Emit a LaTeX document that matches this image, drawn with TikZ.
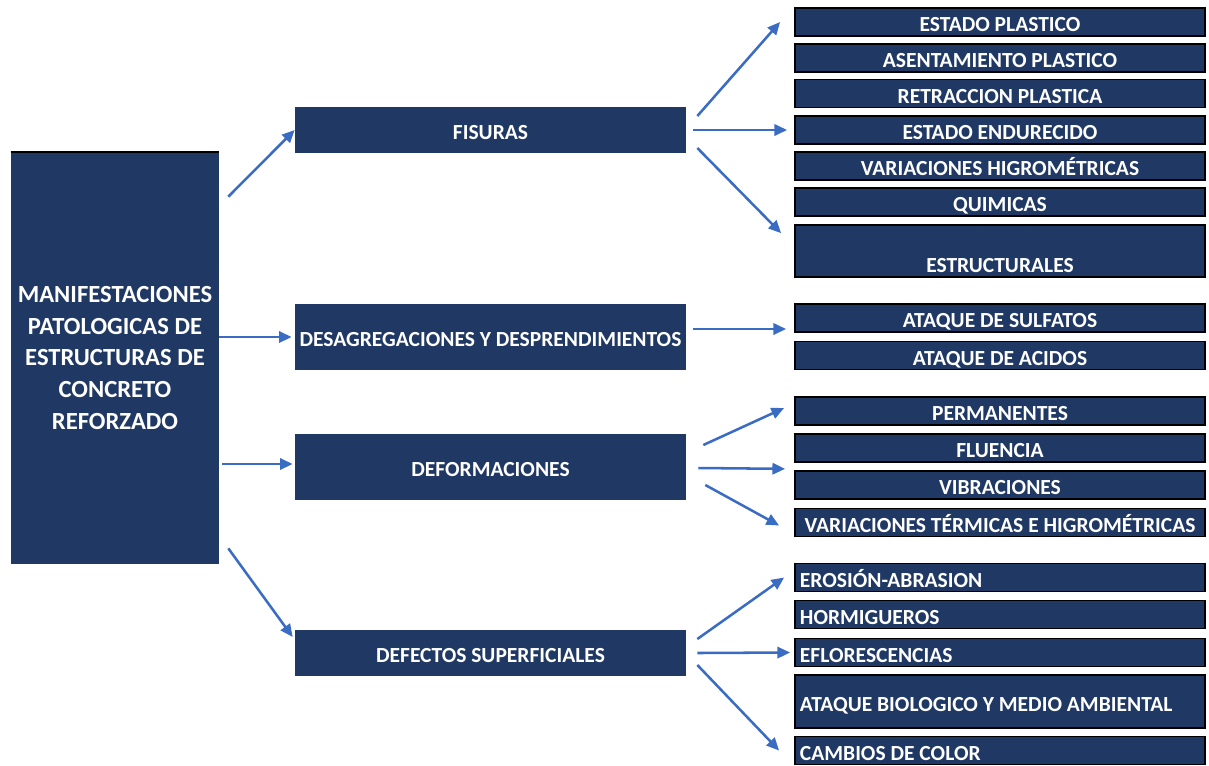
\documentclass[tikz,border=0pt]{standalone}
\usepackage{fontspec}
\setmainfont{Carlito}
\usetikzlibrary{arrows.meta,calc}
\definecolor{navy}{RGB}{32,56,100}
\definecolor{arrblue}{RGB}{59,108,196}
\tikzset{
  mainbox/.style={rectangle, fill=navy, text=white, inner sep=0pt,
    font=\fontsize{17.5}{22.7}\selectfont\bfseries, align=center},
  boxfont/.style={font=\fontsize{15.3}{18}\selectfont\bfseries,
    text height=13.6pt, text depth=0pt},
  catbox/.style={rectangle, fill=navy, text=white, inner sep=0pt, boxfont,
    minimum width=9.775cm},
  subbox/.style={rectangle, fill=navy, draw=black, line width=1.2pt, text=white,
    inner sep=0pt, boxfont, minimum width=10.25cm, minimum height=0.7cm},
  lsub/.style={subbox, text width=10cm, align=flush left},
  arr/.style={draw=arrblue, line width=1.8pt, -{Triangle[length=9pt,width=8pt]}}
}
\begin{document}
\begin{tikzpicture}[x=0.025cm, y=-0.025cm]
  \useasboundingbox (0,0) rectangle (1209,765);
  % root
  \node[mainbox, minimum width=5.2cm, minimum height=10.3cm] (main) at (115,358)
    {MANIFESTACIONES\\PATOLOGICAS DE\\ESTRUCTURAS DE\\CONCRETO\\REFORZADO};
  \draw[line width=1.5pt] (main.north west) -- (main.north east);
  % categories
  \node[catbox, minimum height=1.15cm] (fis) at (490.5,130) {FISURAS};
  \node[catbox, minimum height=1.65cm] (des) at (490.5,337) {DESAGREGACIONES Y DESPRENDIMIENTOS};
  \node[catbox, minimum height=1.65cm] (def) at (490.5,467) {DEFORMACIONES};
  \node[catbox, minimum height=1.15cm] (dfs) at (490.5,653) {DEFECTOS SUPERFICIALES};
  % fisuras
  \node[subbox] (ep)  at (1000,22)  {ESTADO PLASTICO};
  \node[subbox] (ap)  at (1000,58)  {ASENTAMIENTO PLASTICO};
  \node[subbox] (rp)  at (1000,93.5) {RETRACCION PLASTICA};
  \node[subbox] (ee)  at (1000,130) {ESTADO ENDURECIDO};
  \node[subbox] (vh)  at (1000,166) {VARIACIONES HIGROMÉTRICAS};
  \node[subbox] (qui) at (1000,202) {QUIMICAS};
  \node[subbox, minimum height=1.3cm] (estr) at (1000,251) {};
  \node[text=white, inner sep=0pt, boxfont] (estrt) at ($(estr.south)+(0,-15)$) {ESTRUCTURALES};
  % desagregaciones
  \node[subbox] (sul) at (1000,318) {ATAQUE DE SULFATOS};
  \node[subbox] (aci) at (1000,355.5) {ATAQUE DE ACIDOS};
  % deformaciones
  \node[subbox] (perm) at (1000,411) {PERMANENTES};
  \node[subbox] (flu)  at (1000,448) {FLUENCIA};
  \node[subbox] (vib)  at (1000,485) {VIBRACIONES};
  \node[subbox] (vte)  at (1000,522.5) {VARIACIONES TÉRMICAS E HIGROMÉTRICAS};
  % defectos
  \node[lsub] (ero) at (1000,577.5) {EROSIÓN-ABRASION};
  \node[lsub] (hor) at (1000,614.5) {HORMIGUEROS};
  \node[lsub] (efl) at (1000,652.5) {EFLORESCENCIAS};
  \node[lsub, minimum height=1.325cm] (bio) at (1000,701.5) {ATAQUE BIOLOGICO Y MEDIO AMBIENTAL};
  \node[lsub] (cam) at (1000,750.5) {CAMBIOS DE COLOR};
  % root arrows
  \draw[arr] ($(main.north east)+(9,45)$) -- (fis.west);
  \draw[arr] (main.east |- des.west) -- ($(des.west)+(-3,0)$);
  \draw[arr] ($(main.east |- def.west)+(3,-3)$) -- ($(def.west)+(-2,-3)$);
  \draw[arr] ($(main.south east)+(9,-16)$) -- ($(dfs.west)+(-2,-16)$);
  % fisuras arrows
  \draw[arr] ($(fis.east)+(11,-14)$) -- ($(ep.west)+(-14,0)$);
  \draw[arr] ($(fis.east)+(7,0)$) -- ($(ee.west)+(-7,0)$);
  \draw[arr] ($(fis.east)+(11,18)$) -- ($(estr.north west)+(-13,9)$);
  % desagregaciones arrow
  \draw[arr] ($(des.east)+(7,-8)$) -- ($(sul.west)+(-8,11)$);
  % deformaciones arrows
  \draw[arr] ($(def.east)+(17,-22)$) -- ($(perm.west)+(-10,-3)$);
  \draw[arr] ($(def.east)+(12,1)$) -- ($(flu.south west)+(-9,6)$);
  \draw[arr] ($(def.east)+(19,18)$) -- ($(vte.west)+(-15,3)$);
  % defectos arrows
  \draw[arr] ($(dfs.east)+(11,-14)$) -- ($(ero.west)+(-10,0)$);
  \draw[arr] ($(dfs.east)+(11,0)$) -- ($(efl.west)+(-4,0)$);
  \draw[arr] ($(dfs.east)+(11,12)$) -- ($(cam.west)+(-15,0)$);
\end{tikzpicture}
\end{document}
